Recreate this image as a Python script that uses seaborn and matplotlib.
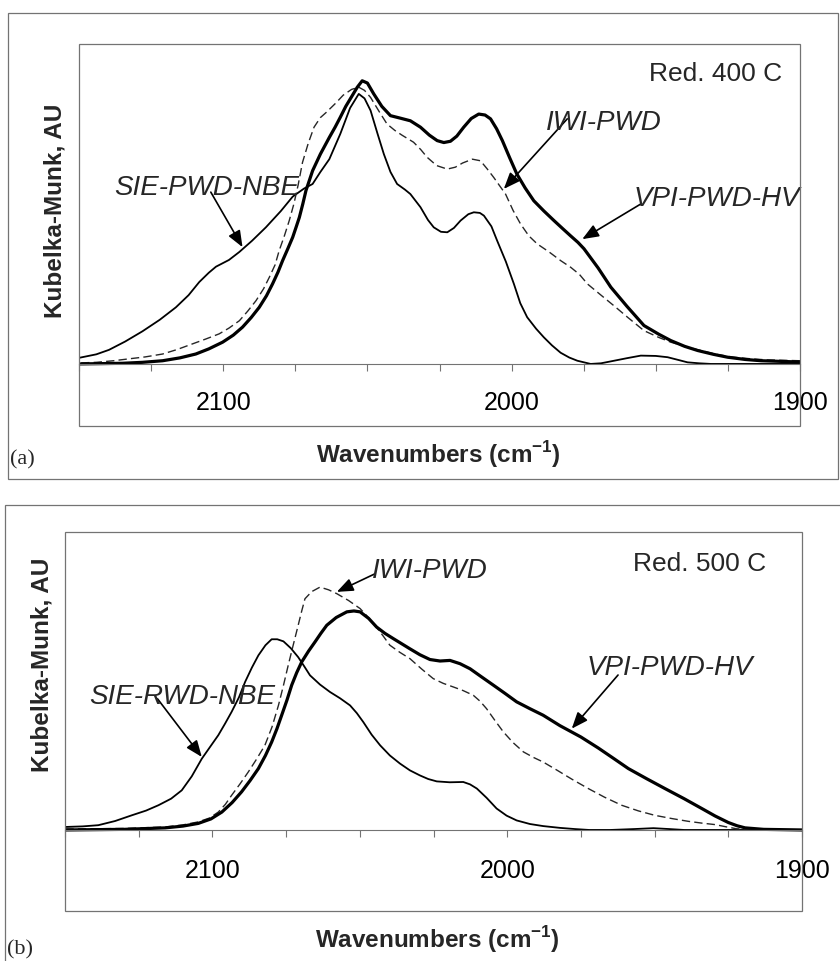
import numpy as np
import pandas as pd
import matplotlib
matplotlib.use("Agg")
import matplotlib.pyplot as plt
from matplotlib.ticker import MultipleLocator, FixedLocator
from matplotlib.patches import Rectangle
import seaborn as sns

sns.set_style("white")
plt.rcParams['font.family'] = ['Liberation Sans', 'DejaVu Sans']
plt.rcParams['mathtext.fontset'] = 'custom'
plt.rcParams['mathtext.rm'] = 'Liberation Sans'
plt.rcParams['mathtext.bf'] = 'Liberation Sans:bold'

# ---------------- data: panel (a) Red. 400 C ----------------
a_sie_wn = [2150, 2144, 2139.6, 2134, 2128, 2122, 2116.4, 2112, 2108.3, 2105, 2102.5, 2098,
            2094.4, 2090, 2085.2, 2080, 2075.9, 2072, 2069, 2066.3, 2063.2, 2059.4, 2056,
            2053, 2051, 2048.9, 2046.5, 2044.3, 2042, 2039.7, 2037, 2035.1, 2031.6, 2029,
            2027, 2024.5, 2022.3, 2020, 2017.7, 2015, 2013.1, 2011, 2009.6, 2007, 2005,
            2002, 1999.2, 1997, 1994.6, 1991.5, 1988.8, 1986, 1983, 1980, 1977.2, 1972.6,
            1969, 1965.6, 1960, 1955.2, 1950, 1945.9, 1942, 1939, 1935, 1930.9, 1900]
a_sie_i = [0.019, 0.03, 0.044, 0.07, 0.102, 0.138, 0.177, 0.215, 0.256, 0.285, 0.304, 0.325,
           0.35, 0.385, 0.427, 0.478, 0.523, 0.548, 0.5625, 0.6, 0.64, 0.719, 0.8,
           0.844, 0.83, 0.792, 0.72, 0.656, 0.6, 0.5625, 0.545, 0.531, 0.49, 0.45,
           0.427, 0.413, 0.4115, 0.425, 0.448, 0.468, 0.474, 0.472, 0.4635, 0.43, 0.385,
           0.32, 0.25, 0.19, 0.146, 0.11, 0.083, 0.058, 0.035, 0.02, 0.01, 0.0,
           0.002, 0.008, 0.018, 0.026, 0.025, 0.021, 0.012, 0.005, 0.002, 0.0, 0.0]

a_iwi_wn = [2150, 2144, 2138, 2132.6, 2127, 2121, 2116, 2110.7, 2106, 2101.4, 2098, 2094.4,
            2091.5, 2088.6, 2086, 2084, 2082, 2080.6, 2078.8, 2077.1, 2075.5, 2074, 2072.5,
            2070.5, 2068.5, 2066.3, 2064.3, 2061, 2058.4, 2055.5, 2053, 2051, 2048.9, 2046,
            2043.2, 2040.5, 2038, 2034, 2031.5, 2029.3, 2026, 2022.3, 2019.5, 2017, 2013.6,
            2010.8, 2008.5, 2006.2, 2004, 2002.1, 1999.5, 1996.9, 1994, 1991.1, 1987, 1983,
            1979.5, 1976.5, 1973.7, 1969, 1964, 1959.8, 1954.1, 1949, 1944.8, 1940, 1934.4,
            1929, 1923, 1917, 1911.2, 1900]
a_iwi_i = [0.003, 0.005, 0.01, 0.016, 0.022, 0.031, 0.045, 0.0625, 0.078, 0.094, 0.112, 0.135,
           0.165, 0.198, 0.235, 0.271, 0.31, 0.354, 0.40, 0.448, 0.50, 0.56, 0.63,
           0.69, 0.74, 0.77, 0.786, 0.815, 0.84, 0.858, 0.865, 0.855, 0.833, 0.79,
           0.75, 0.73, 0.715, 0.693, 0.67, 0.646, 0.62, 0.609, 0.615, 0.628, 0.64,
           0.635, 0.61, 0.583, 0.555, 0.531, 0.48, 0.4375, 0.40, 0.375, 0.35, 0.323,
           0.302, 0.28, 0.25, 0.215, 0.178, 0.146, 0.104, 0.083, 0.068, 0.055, 0.042,
           0.03, 0.021, 0.016, 0.0125, 0.01]

a_vpi_wn = [2150, 2142, 2135, 2128, 2121, 2115, 2109.5, 2105, 2100.2, 2096.5, 2093.3, 2090.3,
            2087.5, 2085, 2082.9, 2081, 2079.4, 2077.6, 2075.9, 2074.7, 2073.6, 2072.4, 2071.3,
            2069, 2066.3, 2063.2, 2061.2, 2059.4, 2057.5, 2055.5, 2053.5, 2051.8, 2050, 2047.8,
            2045, 2042, 2038.5, 2035.1, 2031.6, 2028.5, 2025.8, 2023.5, 2021.2, 2019, 2016.6,
            2014, 2011.4, 2009.2, 2007.3, 2005.2, 2003.2, 2000.7, 1998.2, 1995.3, 1992.3,
            1988.8, 1985.3, 1982.3, 1979.5, 1977, 1974.9, 1970, 1965.6, 1960, 1954.1, 1949,
            1944.8, 1940, 1935.5, 1930, 1925.1, 1919, 1913.5, 1900]
a_vpi_i = [0.0, 0.001, 0.002, 0.005, 0.01, 0.019, 0.031, 0.047, 0.068, 0.09, 0.115, 0.145,
           0.177, 0.213, 0.25, 0.287, 0.323, 0.36, 0.396, 0.428, 0.458, 0.5, 0.542,
           0.604, 0.656, 0.708, 0.74, 0.771, 0.805, 0.835, 0.865, 0.885, 0.878, 0.844,
           0.805, 0.776, 0.768, 0.76, 0.74, 0.715, 0.698, 0.692, 0.696, 0.712, 0.74,
           0.767, 0.781, 0.778, 0.766, 0.735, 0.698, 0.645, 0.594, 0.55, 0.51,
           0.478, 0.448, 0.423, 0.4, 0.38, 0.36, 0.30, 0.24, 0.18, 0.12, 0.093,
           0.073, 0.055, 0.042, 0.03, 0.021, 0.014, 0.01, 0.006]

# ---------------- data: panel (b) Red. 500 C ----------------
b_sie_wn = [2150, 2144, 2138.7, 2133, 2127.4, 2122.5, 2118.3, 2114, 2110.4, 2107, 2103.6,
            2100.7, 2098, 2095.7, 2093.5, 2091, 2088.9, 2086.6, 2084.4, 2082, 2079.9, 2078,
            2075.9, 2073.4, 2070.9, 2068.9, 2066.9, 2063.5, 2060.1, 2056.7, 2053.3, 2051,
            2048.8, 2046, 2043.1, 2039.8, 2036.4, 2033, 2029.6, 2026.8, 2023.9, 2019.5,
            2014.9, 2012.6, 2010.3, 2007, 2003.6, 2000.2, 1996.8, 1992.3, 1987.8, 1982.1,
            1977, 1972.2, 1965, 1957, 1950.4, 1945, 1940, 1900]
b_sie_i = [0.01, 0.012, 0.016, 0.03, 0.049, 0.065, 0.083, 0.105, 0.133, 0.18, 0.239,
           0.28, 0.318, 0.357, 0.396, 0.445, 0.497, 0.545, 0.586, 0.62, 0.64, 0.64,
           0.633, 0.61, 0.58, 0.55, 0.519, 0.488, 0.463, 0.442, 0.418, 0.392,
           0.362, 0.32, 0.284, 0.25, 0.223, 0.2, 0.183, 0.171, 0.163, 0.16,
           0.161, 0.153, 0.139, 0.108, 0.072, 0.048, 0.032, 0.02, 0.013, 0.007,
           0.003, 0.0, 0.0, 0.003, 0.006, 0.003, 0.0, 0.0]

b_iwi_wn = [2150, 2130, 2116, 2110, 2104.8, 2101, 2098, 2095.6, 2093.5, 2090.6, 2087.8, 2085,
            2082.2, 2079.8, 2077.6, 2075.9, 2074.3, 2072.6, 2070.9, 2069.7, 2068.6, 2066.3,
            2063.5, 2060.6, 2057.8, 2053.8, 2049.9, 2047, 2044.3, 2042, 2039.8, 2036.4, 2033,
            2029, 2025.1, 2021.7, 2018.3, 2015, 2011.5, 2009.2, 2007, 2004.2, 2001.3, 1998,
            1994.5, 1991, 1987.8, 1985.4, 1983, 1978, 1972.5, 1967, 1961.2, 1955.5, 1949.9,
            1944, 1938.6, 1934, 1929.5, 1926, 1922.2, 1915, 1900]
b_iwi_i = [0.003, 0.005, 0.01, 0.017, 0.027, 0.04, 0.06, 0.086, 0.116, 0.155, 0.195, 0.238,
           0.284, 0.345, 0.418, 0.485, 0.552, 0.62, 0.687, 0.735, 0.776, 0.8,
           0.815, 0.806, 0.793, 0.77, 0.743, 0.712, 0.68, 0.65, 0.62, 0.596, 0.575,
           0.54, 0.508, 0.492, 0.48, 0.468, 0.452, 0.432, 0.407, 0.368, 0.329, 0.293,
           0.262, 0.243, 0.228, 0.214, 0.2, 0.17, 0.139, 0.11, 0.083, 0.064, 0.049,
           0.038, 0.029, 0.023, 0.018, 0.011, 0.004, 0.001, 0.0]

b_vpi_wn = [2150, 2130, 2116, 2110, 2104.8, 2100.5, 2096.8, 2093.3, 2090.1, 2087.2, 2084.4, 2082,
            2079.9, 2078.1, 2076.5, 2074.7, 2073.1, 2071.4, 2069.7, 2067.4, 2065.2, 2063.2,
            2061.2, 2058, 2054.4, 2052, 2049.9, 2047, 2044.3, 2041.5, 2038.6, 2035.8, 2033,
            2029.6, 2026.2, 2022.8, 2019.4, 2016, 2012.6, 2008.6, 2004.7, 2000.7, 1996.8,
            1992.3, 1987.8, 1982.1, 1975, 1969.1, 1963.9, 1958.9, 1952.7, 1946.5, 1940, 1934,
            1929.5, 1925, 1922, 1919.3, 1913, 1900]
b_vpi_i = [0.0, 0.002, 0.007, 0.013, 0.022, 0.037, 0.06, 0.092, 0.128, 0.166, 0.206, 0.25,
           0.295, 0.34, 0.385, 0.436, 0.486, 0.528, 0.564, 0.6, 0.631, 0.66,
           0.687, 0.713, 0.732, 0.735, 0.732, 0.71, 0.681, 0.66, 0.642, 0.625, 0.608,
           0.588, 0.572, 0.567, 0.569, 0.558, 0.541, 0.513, 0.486, 0.458, 0.43,
           0.407, 0.385, 0.35, 0.312, 0.275, 0.24, 0.206, 0.172, 0.139, 0.105, 0.072,
           0.047, 0.025, 0.014, 0.007, 0.002, 0.0]

xticks_major = [2100, 2000, 1900]
xtick_labels = ["2100", "2000", "1900"]

GRAY = '0.45'

fig = plt.figure(figsize=(8.4, 9.62), dpi=100)
W, H = 840.0, 962.0


def fig_rect(x0, y0, x1, y1):
    return [x0 / W, 1 - y1 / H, (x1 - x0) / W, (y1 - y0) / H]


def style_axes(ax, ybottom, pad):
    ax.set_xlim(2150, 1900)
    ax.set_ylim(ybottom, 1.0)
    for s in ['top', 'left', 'right']:
        ax.spines[s].set_visible(False)
    ax.spines['bottom'].set_position(('data', 0))
    ax.spines['bottom'].set_color(GRAY)
    ax.spines['bottom'].set_linewidth(0.8)
    ax.add_patch(Rectangle((0, 0), 1, 1, transform=ax.transAxes, fill=False,
                           ec=GRAY, lw=0.9, clip_on=False, zorder=5))
    ax.set_yticks([])
    ax.xaxis.set_major_locator(FixedLocator(xticks_major))
    ax.set_xticklabels(xtick_labels)
    ax.xaxis.set_minor_locator(MultipleLocator(25))
    ax.tick_params(axis='x', which='both', direction='out', length=5, width=0.8,
                   color=GRAY, labelsize=18, pad=pad, labelcolor='black', bottom=True)
    ax.set_xlabel('')
    ax.set_ylabel('')


def draw_panel(ax, sie, iwi, vpi):
    sns.lineplot(x=sie[0], y=sie[1], ax=ax, color='black', lw=1.3, estimator=None,
                 solid_joinstyle='round')
    sns.lineplot(x=iwi[0], y=iwi[1], ax=ax, color='0.15', lw=1.0, estimator=None,
                 linestyle=(0, (6, 3)))
    sns.lineplot(x=vpi[0], y=vpi[1], ax=ax, color='black', lw=2.3, estimator=None,
                 solid_joinstyle='round')


ARROW = dict(arrowstyle='-|>,head_length=0.55,head_width=0.22', color='black',
             lw=1.2, mutation_scale=18, shrinkA=0, shrinkB=0)

# ---------------- panel (a) ----------------
fig.add_artist(Rectangle((8 / W, 1 - 480 / H), 830 / W, 466 / H, transform=fig.transFigure,
                         fill=False, ec=GRAY, lw=0.9))
axA = fig.add_axes(fig_rect(79, 45, 800, 427))
draw_panel(axA, (a_sie_wn, a_sie_i), (a_iwi_wn, a_iwi_i), (a_vpi_wn, a_vpi_i))
style_axes(axA, -0.194, 14)

axA.annotate('', xy=(2093.3, 0.365), xytext=(2104.3, 0.537), arrowprops=ARROW)
axA.annotate('', xy=(2002.7, 0.547), xytext=(1980.7, 0.766), arrowprops=ARROW)
axA.annotate('', xy=(1975.5, 0.39), xytext=(1955.2, 0.50), arrowprops=ARROW)
axA.text(2105.6, 0.553, 'SIE-PWD-NBE', style='italic', fontsize=20, ha='center', va='center')
axA.text(1968.1, 0.756, 'IWI-PWD', style='italic', fontsize=20, ha='center', va='center')
axA.text(1928.8, 0.519, 'VPI-PWD-HV', style='italic', fontsize=20, ha='center', va='center')
axA.text(1929.3, 0.909, 'Red. 400 C', fontsize=19, ha='center', va='center')

fig.text(55 / W, 1 - 211 / H, 'Kubelka-Munk, AU', rotation=90, fontsize=17.5,
         fontweight='bold', ha='center', va='center')
fig.text(438 / W, 1 - 455 / H, r'Wavenumbers (cm$^{\mathbf{-1}}$)', fontsize=17.5,
         fontweight='bold', ha='center', va='center')
fig.text(22 / W, 1 - 460 / H, '(a)', fontsize=16, family=['Liberation Serif', 'DejaVu Serif'],
         ha='center', va='center')

# ---------------- panel (b) ----------------
fig.add_artist(Rectangle((5 / W, 1 - 980 / H), 850 / W, 474 / H, transform=fig.transFigure,
                         fill=False, ec=GRAY, lw=0.9))
axB = fig.add_axes(fig_rect(65, 533, 802, 912))
draw_panel(axB, (b_sie_wn, b_sie_i), (b_iwi_wn, b_iwi_i), (b_vpi_wn, b_vpi_i))
style_axes(axB, -0.272, 15.5)

axB.annotate('', xy=(2103.6, 0.245), xytext=(2118.6, 0.44), arrowprops=ARROW)
axB.annotate('', xy=(2057.8, 0.799), xytext=(2044.8, 0.86), arrowprops=ARROW)
axB.annotate('', xy=(1978.1, 0.34), xytext=(1962.4, 0.52), arrowprops=ARROW)
axB.text(2110.1, 0.45, 'SIE-RWD-NBE', style='italic', fontsize=20, ha='center', va='center')
axB.text(2026.2, 0.872, 'IWI-PWD', style='italic', fontsize=20, ha='center', va='center')
axB.text(1944.8, 0.547, 'VPI-PWD-HV', style='italic', fontsize=20, ha='center', va='center')
axB.text(1934.6, 0.896, 'Red. 500 C', fontsize=19, ha='center', va='center')

fig.text(42 / W, 1 - 665 / H, 'Kubelka-Munk, AU', rotation=90, fontsize=17.5,
         fontweight='bold', ha='center', va='center')
fig.text(437 / W, 1 - 940 / H, r'Wavenumbers (cm$^{\mathbf{-1}}$)', fontsize=17.5,
         fontweight='bold', ha='center', va='center')
fig.text(20 / W, 1 - 950 / H, '(b)', fontsize=16, family=['Liberation Serif', 'DejaVu Serif'],
         ha='center', va='center')

fig.savefig('out.png', dpi=100, facecolor='white')
